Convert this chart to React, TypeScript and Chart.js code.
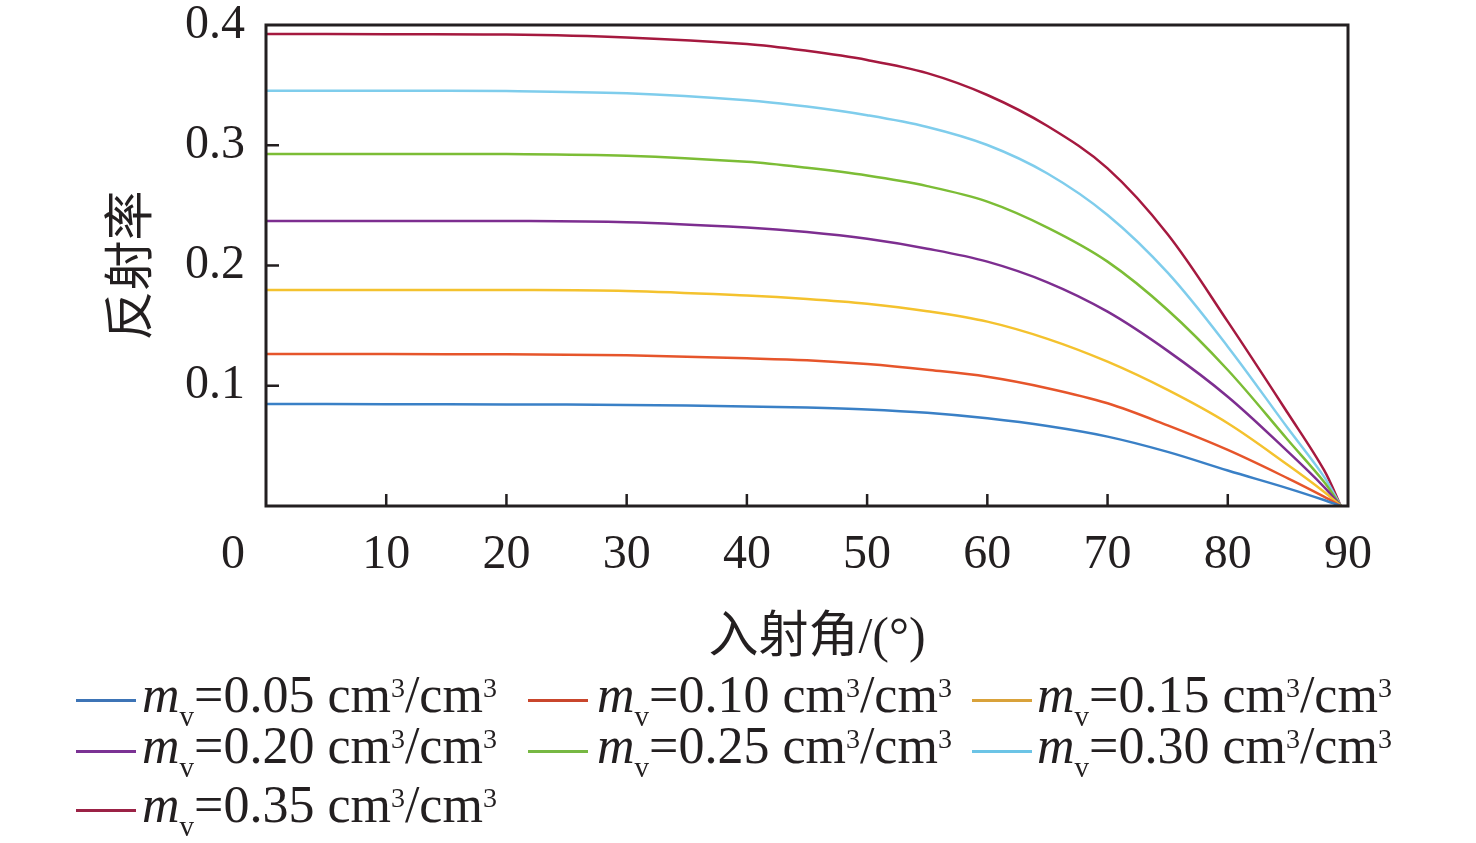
import React, { useEffect, useRef } from 'react';
import { Chart, registerables } from 'chart.js';

Chart.register(...registerables);

// ---------- data ----------
const ANGLES = [0, 10, 20, 30, 40, 45, 50, 55, 60, 65, 70, 75, 80, 85, 88, 89.4];

const MV05 = [0.0848, 0.0847, 0.0845, 0.084, 0.0828, 0.0819, 0.0803, 0.0775, 0.0729, 0.0665, 0.0577, 0.045, 0.0295, 0.0147, 0.005, 0];
const MV10 = [0.1264, 0.1263, 0.1261, 0.1253, 0.1228, 0.1212, 0.118, 0.1133, 0.1075, 0.098, 0.0854, 0.067, 0.0466, 0.023, 0.0078, 0];
const MV15 = [0.1796, 0.1796, 0.1796, 0.1788, 0.175, 0.1722, 0.1682, 0.162, 0.1533, 0.139, 0.12, 0.0965, 0.0688, 0.0341, 0.0119, 0];
const MV20 = [0.237, 0.237, 0.237, 0.2359, 0.2315, 0.2278, 0.2222, 0.214, 0.2032, 0.186, 0.1616, 0.129, 0.0909, 0.0452, 0.016, 0];
const MV25 = [0.2927, 0.2927, 0.2927, 0.2913, 0.2862, 0.2812, 0.2748, 0.266, 0.2531, 0.2315, 0.2032, 0.163, 0.1131, 0.0549, 0.0202, 0];
const MV30 = [0.3454, 0.3453, 0.3451, 0.3432, 0.3375, 0.3322, 0.325, 0.3152, 0.3002, 0.2765, 0.242, 0.194, 0.1325, 0.0646, 0.0244, 0];
const MV35 = [0.3925, 0.3924, 0.3921, 0.3897, 0.3842, 0.3785, 0.3709, 0.36, 0.3418, 0.316, 0.2808, 0.226, 0.1533, 0.0771, 0.03, 0];

const SERIES = [MV05, MV10, MV15, MV20, MV25, MV30, MV35];
const MV_LABELS = ['0.05', '0.10', '0.15', '0.20', '0.25', '0.30', '0.35'];

const X_TICKS = [10, 20, 30, 40, 50, 60, 70, 80];
const Y_TICKS = [0.1, 0.2, 0.3];
const X_TITLE = '入射角/(°)';
const Y_TITLE = '反射率';

// ---------- styles ----------
const LINE_COLORS = ['#3a80c6', '#e6552b', '#f4c22e', '#7d2e90', '#7cbd36', '#7fcdec', '#a5193f'];
const SWATCH_COLORS = ['#3d74b6', '#c9462c', '#d9a23a', '#7b3294', '#77b843', '#6cc4e6', '#9b2246'];
const INK = '#231f20';
const SERIF = "'Liberation Serif', 'Times New Roman', serif";

const COL_SWATCH_X = [76, 528, 972];
const COL_TEXT_X = [142, 597, 1037];
const ROW_BASELINE = [713, 764, 823];
const LEGEND_SIZE = 52;

const decorPlugin = {
  id: 'decor',
  afterDraw(chart: any) {
    const { ctx, chartArea: a, scales } = chart;
    const xs = scales.x;
    const ys = scales.y;
    ctx.save();
    ctx.strokeStyle = INK;
    ctx.lineWidth = 2.5;
    ctx.beginPath();
    X_TICKS.forEach((v) => {
      const px = xs.getPixelForValue(v);
      ctx.moveTo(px, a.bottom);
      ctx.lineTo(px, a.bottom - 12);
    });
    Y_TICKS.forEach((v) => {
      const py = ys.getPixelForValue(v);
      ctx.moveTo(a.left, py);
      ctx.lineTo(a.left + 13, py);
    });
    ctx.stroke();
    ctx.lineWidth = 3;
    ctx.strokeRect(a.left, a.top, a.right - a.left, a.bottom - a.top);

    ctx.fillStyle = INK;
    ctx.font = `48px ${SERIF}`;
    ctx.textAlign = 'right';
    ctx.textBaseline = 'middle';
    ctx.fillText('0', a.left - 21, a.bottom + 25 + 24);

    ctx.font = `50px 'Liberation Serif', 'Noto Sans CJK SC'`;
    ctx.textAlign = 'center';
    ctx.fillText(X_TITLE, (a.left + a.right) / 2 + 10, a.bottom + 133);

    ctx.translate(a.left - 138, (a.top + a.bottom) / 2);
    ctx.rotate(-Math.PI / 2);
    ctx.font = `50px 'Noto Sans CJK SC'`;
    ctx.fillText(Y_TITLE, 0, 0);
    ctx.restore();
  },
};

function Legend() {
  return (
    <>
      {MV_LABELS.map((lab, i) => {
        const col = i % 3;
        const row = Math.floor(i / 3);
        const base = ROW_BASELINE[row];
        return (
          <React.Fragment key={lab}>
            <div
              style={{
                position: 'absolute',
                left: COL_SWATCH_X[col],
                top: base - 14.5,
                width: 60,
                height: 3.5,
                background: SWATCH_COLORS[i],
              }}
            />
            <div
              style={{
                position: 'absolute',
                left: COL_TEXT_X[col],
                top: base - 0.8375 * LEGEND_SIZE,
                fontFamily: SERIF,
                fontSize: LEGEND_SIZE,
                lineHeight: LEGEND_SIZE + 'px',
                color: INK,
                whiteSpace: 'nowrap',
              }}
            >
              <i>m</i>
              <span style={{ fontSize: 29, position: 'relative', top: 14 }}>v</span>
              {'=' + lab + ' cm'}
              <span style={{ fontSize: 28, position: 'relative', top: -15 }}>3</span>
              {'/cm'}
              <span style={{ fontSize: 28, position: 'relative', top: -15 }}>3</span>
            </div>
          </React.Fragment>
        );
      })}
    </>
  );
}

export default function App() {
  const ref = useRef<HTMLCanvasElement | null>(null);

  useEffect(() => {
    if (!ref.current) return;
    const tickFont = { family: SERIF, size: 48, lineHeight: 1 };
    const chart = new Chart(ref.current, {
      type: 'line',
      data: {
        datasets: SERIES.map((s, i) => ({
          label: 'mv=' + MV_LABELS[i],
          data: ANGLES.map((a, k) => ({ x: a, y: s[k] })),
          borderColor: LINE_COLORS[i],
          backgroundColor: LINE_COLORS[i],
          borderWidth: 2.5,
          pointRadius: 0,
          fill: false,
          tension: 0.35,
        })),
      },
      options: {
        animation: false,
        responsive: false,
        layout: { padding: { left: 0, top: 25, right: 128, bottom: 237 } },
        plugins: { legend: { display: false }, tooltip: { enabled: false } },
        scales: {
          x: {
            type: 'linear',
            min: 0,
            max: 90,
            afterFit: (s: any) => {
              s.height = 100;
              s.paddingLeft = 0;
              s.paddingRight = 0;
              s.paddingTop = 0;
              s.paddingBottom = 0;
            },
            grid: { display: false, drawTicks: false, tickLength: 0 },
            border: { display: false },
            ticks: {
              stepSize: 10,
              padding: 25,
              autoSkip: false,
              maxRotation: 0,
              color: INK,
              font: tickFont,
              callback: (v: any) => (v === 0 ? '' : String(v)),
            },
          },
          y: {
            type: 'linear',
            min: 0,
            max: 0.4,
            afterFit: (s: any) => {
              s.width = 266;
              s.paddingLeft = 0;
              s.paddingRight = 0;
              s.paddingTop = 0;
              s.paddingBottom = 0;
            },
            grid: { display: false, drawTicks: false, tickLength: 0 },
            border: { display: false },
            ticks: {
              stepSize: 0.1,
              padding: 21,
              color: INK,
              font: tickFont,
              callback: (v: any) => (Math.abs(Number(v)) < 1e-9 ? '' : Number(v).toFixed(1)),
            },
          },
        },
      } as any,
      plugins: [decorPlugin],
    });
    return () => chart.destroy();
  }, []);

  return (
    <div style={{ position: 'fixed', left: 0, top: 0, width: 1476, height: 843, background: '#fff' }}>
      <canvas ref={ref} width={1476} height={843} style={{ display: 'block', width: 1476, height: 843 }} />
      <Legend />
    </div>
  );
}
